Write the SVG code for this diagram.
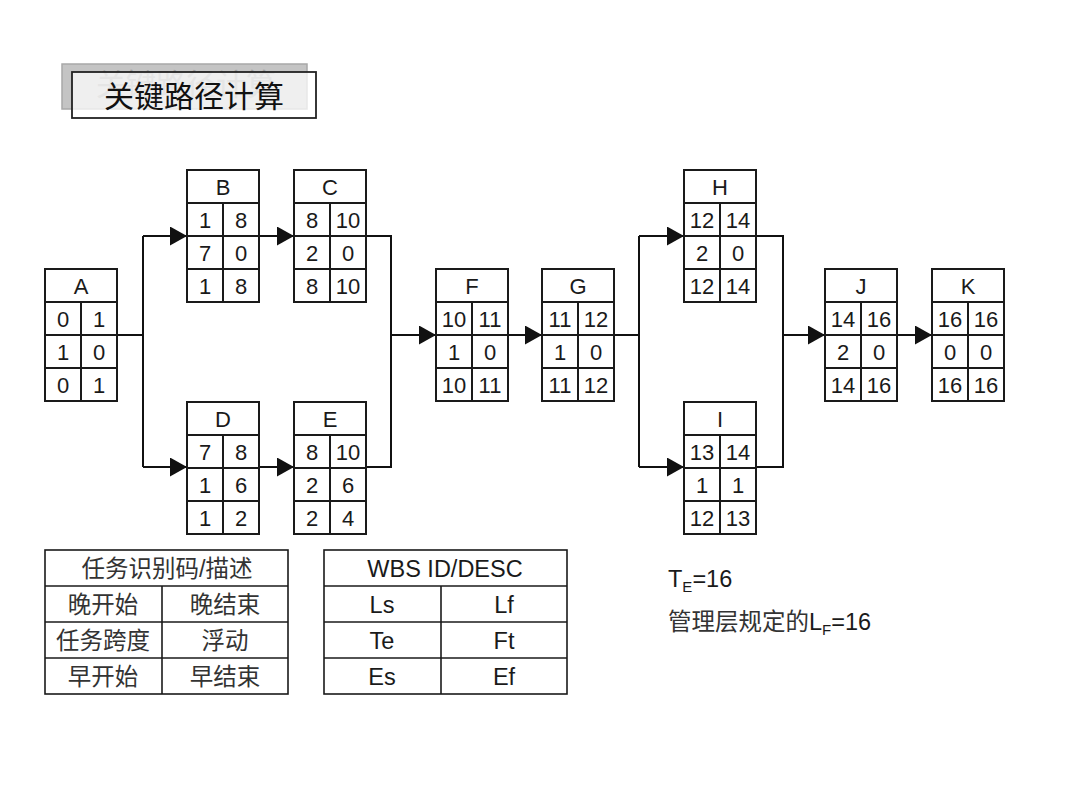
<svg xmlns="http://www.w3.org/2000/svg" width="1080" height="810" viewBox="0 0 1080 810">
<style>
text{font-family:"Liberation Sans","Noto Sans CJK SC",sans-serif;fill:#1a1a1a;text-anchor:middle}
.n text{font-size:22px}
.c{fill:none;stroke:#111;stroke-width:2}
.t rect,.t line{fill:none;stroke:#1a1a1a;stroke-width:1.6}
.t text{font-size:23.5px}
.cn{fill:#333}
</style>
<defs>
<marker id="ar" markerUnits="userSpaceOnUse" markerWidth="18" markerHeight="20" refX="17" refY="9.5" orient="auto">
<path d="M0,0 L17,9.5 L0,19 z" fill="#111"/>
</marker>
<g id="grid" fill="none" stroke="#1a1a1a" stroke-width="2">
<rect x="0" y="0" width="72" height="132" fill="none"/>
<line x1="0" y1="33" x2="72" y2="33"/>
<line x1="0" y1="66" x2="72" y2="66"/>
<line x1="0" y1="99" x2="72" y2="99"/>
<line x1="36" y1="33" x2="36" y2="132"/>
</g>
</defs>
<rect width="1080" height="810" fill="#fff"/>

<g id="title">
<rect x="62" y="64" width="245" height="45" fill="#c4c4c4" stroke="#a8a8a8" stroke-width="1.5"/>
<text x="186" y="95" font-size="30" style="fill:#a0a0a0">关键路径计算</text>
<rect x="72" y="72" width="244" height="46" fill="#ffffff" fill-opacity="0.72" stroke="#222" stroke-width="1.8"/>
<text x="194" y="107" font-size="30" style="fill:#111">关键路径计算</text>
</g>

<g id="connectors">
<path class="c" d="M117,335 H143 M143,236 V467"/>
<path class="c" d="M143,236 H187" marker-end="url(#ar)"/>
<path class="c" d="M143,467 H187" marker-end="url(#ar)"/>
<path class="c" d="M259,236 H294" marker-end="url(#ar)"/>
<path class="c" d="M259,467 H294" marker-end="url(#ar)"/>
<path class="c" d="M366,236 H391 V467 H366"/>
<path class="c" d="M391,335 H436" marker-end="url(#ar)"/>
<path class="c" d="M507,335 H542" marker-end="url(#ar)"/>
<path class="c" d="M613,335 H639 M639,236 V467"/>
<path class="c" d="M639,236 H684" marker-end="url(#ar)"/>
<path class="c" d="M639,467 H684" marker-end="url(#ar)"/>
<path class="c" d="M756,236 H783 V467 H756"/>
<path class="c" d="M783,335 H825" marker-end="url(#ar)"/>
<path class="c" d="M897,335 H932" marker-end="url(#ar)"/>
</g>

<g id="A" class="n" transform="translate(45,269)">
<use href="#grid"/>
<text x="36" y="25">A</text>
<text x="18" y="58">0</text><text x="54" y="58">1</text>
<text x="18" y="91">1</text><text x="54" y="91">0</text>
<text x="18" y="124">0</text><text x="54" y="124">1</text>
</g>
<g id="B" class="n" transform="translate(187,170)">
<use href="#grid"/>
<text x="36" y="25">B</text>
<text x="18" y="58">1</text><text x="54" y="58">8</text>
<text x="18" y="91">7</text><text x="54" y="91">0</text>
<text x="18" y="124">1</text><text x="54" y="124">8</text>
</g>
<g id="C" class="n" transform="translate(294,170)">
<use href="#grid"/>
<text x="36" y="25">C</text>
<text x="18" y="58">8</text><text x="54" y="58">10</text>
<text x="18" y="91">2</text><text x="54" y="91">0</text>
<text x="18" y="124">8</text><text x="54" y="124">10</text>
</g>
<g id="D" class="n" transform="translate(187,402)">
<use href="#grid"/>
<text x="36" y="25">D</text>
<text x="18" y="58">7</text><text x="54" y="58">8</text>
<text x="18" y="91">1</text><text x="54" y="91">6</text>
<text x="18" y="124">1</text><text x="54" y="124">2</text>
</g>
<g id="E" class="n" transform="translate(294,402)">
<use href="#grid"/>
<text x="36" y="25">E</text>
<text x="18" y="58">8</text><text x="54" y="58">10</text>
<text x="18" y="91">2</text><text x="54" y="91">6</text>
<text x="18" y="124">2</text><text x="54" y="124">4</text>
</g>
<g id="F" class="n" transform="translate(436,269)">
<use href="#grid"/>
<text x="36" y="25">F</text>
<text x="18" y="58">10</text><text x="54" y="58">11</text>
<text x="18" y="91">1</text><text x="54" y="91">0</text>
<text x="18" y="124">10</text><text x="54" y="124">11</text>
</g>
<g id="G" class="n" transform="translate(542,269)">
<use href="#grid"/>
<text x="36" y="25">G</text>
<text x="18" y="58">11</text><text x="54" y="58">12</text>
<text x="18" y="91">1</text><text x="54" y="91">0</text>
<text x="18" y="124">11</text><text x="54" y="124">12</text>
</g>
<g id="H" class="n" transform="translate(684,170)">
<use href="#grid"/>
<text x="36" y="25">H</text>
<text x="18" y="58">12</text><text x="54" y="58">14</text>
<text x="18" y="91">2</text><text x="54" y="91">0</text>
<text x="18" y="124">12</text><text x="54" y="124">14</text>
</g>
<g id="I" class="n" transform="translate(684,402)">
<use href="#grid"/>
<text x="36" y="25">I</text>
<text x="18" y="58">13</text><text x="54" y="58">14</text>
<text x="18" y="91">1</text><text x="54" y="91">1</text>
<text x="18" y="124">12</text><text x="54" y="124">13</text>
</g>
<g id="J" class="n" transform="translate(825,269)">
<use href="#grid"/>
<text x="36" y="25">J</text>
<text x="18" y="58">14</text><text x="54" y="58">16</text>
<text x="18" y="91">2</text><text x="54" y="91">0</text>
<text x="18" y="124">14</text><text x="54" y="124">16</text>
</g>
<g id="K" class="n" transform="translate(932,269)">
<use href="#grid"/>
<text x="36" y="25">K</text>
<text x="18" y="58">16</text><text x="54" y="58">16</text>
<text x="18" y="91">0</text><text x="54" y="91">0</text>
<text x="18" y="124">16</text><text x="54" y="124">16</text>
</g>

<g id="legend-cn" class="t">
<rect x="45" y="550" width="243" height="144"/>
<line x1="45" y1="586" x2="288" y2="586"/>
<line x1="45" y1="622" x2="288" y2="622"/>
<line x1="45" y1="658" x2="288" y2="658"/>
<line x1="162" y1="586" x2="162" y2="694"/>
<text class="cn" x="167" y="577">任务识别码/描述</text>
<text class="cn" x="103" y="613">晚开始</text><text class="cn" x="225" y="613">晚结束</text>
<text class="cn" x="103" y="649">任务跨度</text><text class="cn" x="225" y="649">浮动</text>
<text class="cn" x="103" y="685">早开始</text><text class="cn" x="225" y="685">早结束</text>
</g>
<g id="legend-en" class="t">
<rect x="324" y="550" width="243" height="144"/>
<line x1="324" y1="586" x2="567" y2="586"/>
<line x1="324" y1="622" x2="567" y2="622"/>
<line x1="324" y1="658" x2="567" y2="658"/>
<line x1="441" y1="586" x2="441" y2="694"/>
<text x="445" y="577">WBS ID/DESC</text>
<text x="382" y="613">Ls</text><text x="504" y="613">Lf</text>
<text x="382" y="649">Te</text><text x="504" y="649">Ft</text>
<text x="382" y="685">Es</text><text x="504" y="685">Ef</text>
</g>

<g id="notes">
<text x="668" y="587" font-size="23.5" style="text-anchor:start">T<tspan font-size="15" dy="5">E</tspan><tspan dy="-5">=16</tspan></text>
<text x="668" y="630" font-size="23.5" style="text-anchor:start" class="cn">管理层规定的<tspan style="fill:#1a1a1a">L</tspan><tspan font-size="15" dy="5" style="fill:#1a1a1a">F</tspan><tspan dy="-5" style="fill:#1a1a1a">=16</tspan></text>
</g>
</svg>
